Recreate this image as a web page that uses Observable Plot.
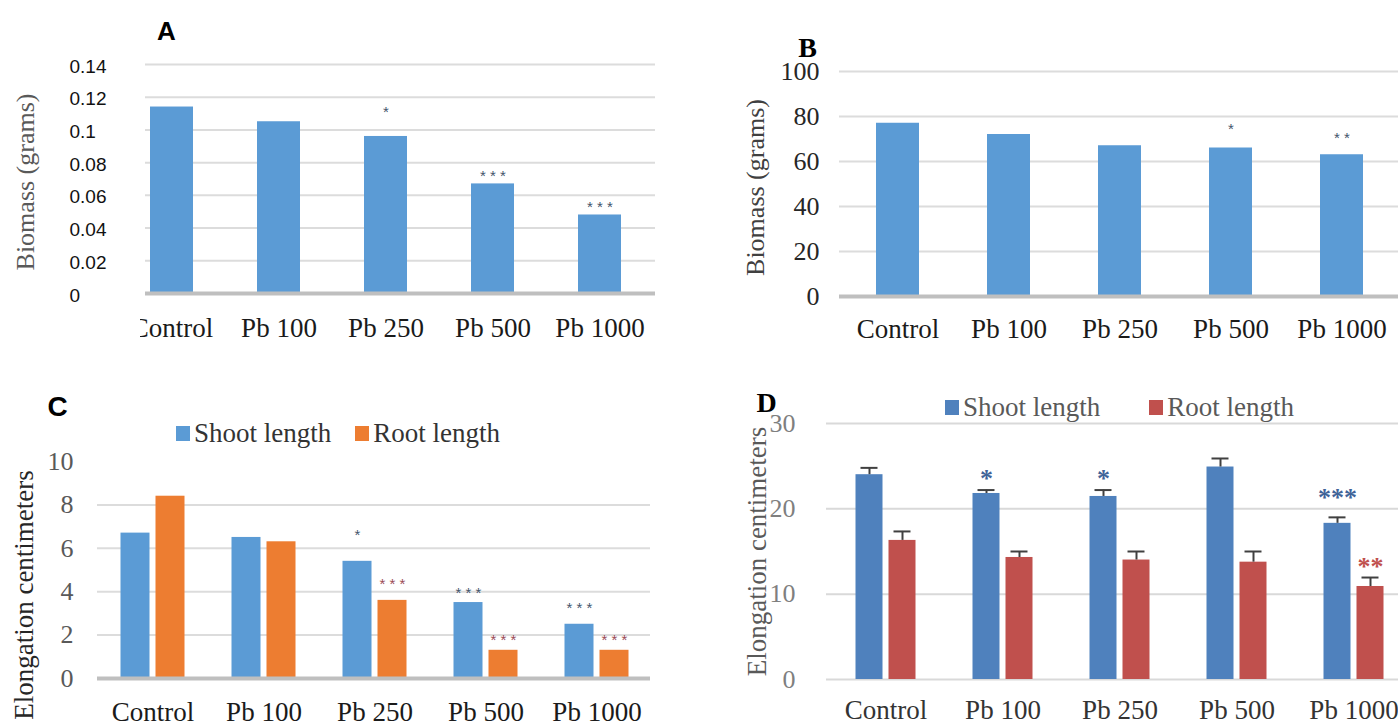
<!DOCTYPE html>
<html><head><meta charset="utf-8">
<script src="https://cdn.jsdelivr.net/npm/d3@7"></script>
<script src="https://cdn.jsdelivr.net/npm/@observablehq/plot@0.6"></script>
<style>
body{margin:0;background:#fff;}
#wrap{position:relative;width:1398px;height:723px;overflow:hidden;background:#fff;}
.panel{position:absolute;}
.legend{position:absolute;display:flex;align-items:center;font-family:"Liberation Serif",serif;font-size:27px;white-space:nowrap;line-height:1;}
.legend .item{display:flex;align-items:center;}
.legend .sw{display:inline-block;width:14px;height:15px;margin-right:4px;}
.mask{position:absolute;background:#fff;}
</style></head><body><div id="wrap"></div>
<script>
// ---------- data ----------
const categories = ["Control", "Pb 100", "Pb 250", "Pb 500", "Pb 1000"];

// Panel A: biomass (grams)
const biomassA = [0.114, 0.105, 0.096, 0.067, 0.048];
const sigA = ["", "", "*", "* * *", "* * *"];
const sigAy = [null, null, 0.113, 0.074, 0.055];
const ticksA = [0, 0.02, 0.04, 0.06, 0.08, 0.1, 0.12, 0.14];
const tickLabelsA = ["0", "0.02", "0.04", "0.06", "0.08", "0.1", "0.12", "0.14"];

// Panel B: biomass (grams)
const biomassB = [77, 72, 67, 66, 63];
const sigB = ["", "", "", "*", "* *"];
const sigBy = [null, null, null, 76, 72];
const ticksB = [0, 20, 40, 60, 80, 100];

// Panel C: elongation (cm)
const seriesC = ["Shoot length", "Root length"];
const shootC = [6.7, 6.5, 5.4, 3.5, 2.5];
const rootC = [8.4, 6.3, 3.6, 1.3, 1.3];
const sigShootC = ["", "", "*", "* * *", "* * *"];
const sigShootCy = [null, null, 6.77, 4.1, 3.41];
const sigRootC = ["", "", "* * *", "* * *", "* * *"];
const sigRootCy = [null, null, 4.52, 1.94, 1.94];
const ticksC = [0, 2, 4, 6, 8, 10];
const gridC = [2, 4, 6, 8];

// Panel D: elongation (cm) with error bars
const seriesD = ["Shoot length", "Root length"];
const shootD = [24.0, 21.8, 21.45, 24.9, 18.3];
const shootErrD = [0.8, 0.4, 0.75, 1.0, 0.7];
const rootD = [16.3, 14.3, 14.0, 13.75, 10.9];
const rootErrD = [1.05, 0.7, 1.0, 1.25, 1.05];
const sigShootD = ["", "*", "*", "", "***"];
const sigShootDy = [null, 24.1, 24.1, null, 21.9];
const sigRootD = ["", "", "", "", "**"];
const sigRootDy = [null, null, null, null, 13.8];
const ticksD = [0, 10, 20, 30];

// ---------- styles ----------
const SERIF = "Liberation Serif, Times New Roman, serif";
const SANS = "Liberation Sans, Arial, sans-serif";
const blue1 = "#5b9bd5", orange1 = "#ed7d31";
const blue2 = "#4f81bd", red2 = "#c0504d";
const MID = {textAnchor: "middle", lineAnchor: "middle"};

const wrap = document.getElementById("wrap");
function place(node, left, top) {
  const d = document.createElement("div");
  d.className = "panel";
  d.style.left = left + "px";
  d.style.top = top + "px";
  d.appendChild(node);
  wrap.appendChild(d);
  return d;
}
function legend(names, colors, left, top, gap, textColor) {
  const d = document.createElement("div");
  d.className = "legend";
  d.style.left = left + "px";
  d.style.top = top + "px";
  d.style.gap = gap + "px";
  d.style.color = textColor;
  names.forEach((n, i) => {
    const it = document.createElement("span");
    it.className = "item";
    const sw = document.createElement("span");
    sw.className = "sw";
    sw.style.background = colors[i];
    it.appendChild(sw);
    it.appendChild(document.createTextNode(n));
    d.appendChild(it);
  });
  wrap.appendChild(d);
}
const rows = (arrs) => categories.map((c, i) => {
  const o = {cat: c};
  for (const k in arrs) o[k] = arrs[k][i];
  return o;
});

// ---------- Panel A ----------
const dataA = rows({v: biomassA, sig: sigA, sy: sigAy});
const plotA = Plot.plot({
  width: 700, height: 360,
  marginLeft: 145, marginRight: 45, marginTop: 64, marginBottom: 67,
  x: {domain: categories, range: [116.25, 653.75], paddingInner: 0.6, paddingOuter: 0.3, align: 0.5, axis: null},
  y: {domain: [0, 0.14], axis: null},
  style: {background: "transparent", overflow: "visible"},
  marks: [
    Plot.ruleY(ticksA.slice(1), {stroke: "#dcdcdc", strokeWidth: 2}),
    Plot.barY(dataA, {x: "cat", y: "v", fill: blue1}),
    Plot.ruleY([0], {stroke: "#bfbfbf", strokeWidth: 4}),
    Plot.text(dataA.filter(d => d.sig), {x: "cat", y: "sy", text: "sig", fontFamily: SANS, fontSize: 15, fill: "#44546a", dy: 3.5}),
    Plot.text(ticksA, {y: d => d, text: (d, i) => tickLabelsA[i], frameAnchor: "left", textAnchor: "start", lineAnchor: "middle", dx: -76, dy: 2, fontFamily: SANS, fontSize: 19, fill: "#111"}),
    Plot.text(categories, {x: d => d, text: d => d, frameAnchor: "bottom", ...MID, dy: 35, fontFamily: SERIF, fontSize: 27, fill: "#1a1a1a"}),
    Plot.text(["Biomass (grams)"], {text: d => d, frameAnchor: "left", ...MID, rotate: -90, dx: -120, dy: 3, fontFamily: SERIF, fontSize: 26, fill: "#595959"}),
    Plot.text(["A"], {text: d => d, frameAnchor: "top-left", ...MID, dx: 21, dy: -32.5, fontFamily: SANS, fontWeight: "bold", fontSize: 26, fill: "#000"})
  ]
});
place(plotA, 0, 0);
// the reference crops the left edge of the first category label
const mask = document.createElement("div");
mask.className = "mask";
Object.assign(mask.style, {left: "0px", top: "310px", width: "140px", height: "40px"});
wrap.appendChild(mask);

// ---------- Panel B ----------
const dataB = rows({v: biomassB, sig: sigB, sy: sigBy});
const plotB = Plot.plot({
  width: 698, height: 360,
  marginLeft: 139, marginRight: 0, marginTop: 71, marginBottom: 64,
  x: {domain: categories, range: [140.1, 698.9], paddingInner: 0.615, paddingOuter: 0.3075, align: 0.5, axis: null},
  y: {domain: [0, 100], axis: null},
  style: {background: "transparent", overflow: "visible"},
  marks: [
    Plot.ruleY(ticksB.slice(1), {stroke: "#dcdcdc", strokeWidth: 2}),
    Plot.barY(dataB, {x: "cat", y: "v", fill: blue1}),
    Plot.ruleY([0], {stroke: "#bfbfbf", strokeWidth: 4}),
    Plot.text(dataB.filter(d => d.sig), {x: "cat", y: "sy", text: "sig", fontFamily: SANS, fontSize: 15, fill: "#44546a", dy: 3.5}),
    Plot.text(ticksB, {y: d => d, text: d => String(d), frameAnchor: "left", textAnchor: "end", lineAnchor: "middle", dx: -20, fontFamily: SERIF, fontSize: 26, fill: "#262626"}),
    Plot.text(categories, {x: d => d, text: d => d, frameAnchor: "bottom", ...MID, dy: 33, fontFamily: SERIF, fontSize: 27, fill: "#1a1a1a"}),
    Plot.text(["Biomass (grams)"], {text: d => d, frameAnchor: "left", ...MID, rotate: -90, dx: -84, dy: 3.5, fontFamily: SERIF, fontSize: 26, fill: "#404040"}),
    Plot.text(["B"], {text: d => d, frameAnchor: "top-left", ...MID, dx: -32, dy: -23, fontFamily: SERIF, fontWeight: "bold", fontSize: 28, fill: "#000"})
  ]
});
place(plotB, 700, 0);

// ---------- Panel C ----------
const dataC = rows({s: shootC, r: rootC, ss: sigShootC, ssy: sigShootCy, rs: sigRootC, rsy: sigRootCy});
const plotC = Plot.plot({
  width: 700, height: 363,
  marginLeft: 97, marginRight: 50, marginTop: 101, marginBottom: 45,
  x: {domain: categories, range: [96.95, 652.55], paddingInner: 0.739, paddingOuter: 0.3695, align: 0.5, axis: null},
  y: {domain: [0, 10], axis: null},
  style: {background: "transparent", overflow: "visible"},
  marks: [
    Plot.ruleY(gridC, {stroke: "#dcdcdc", strokeWidth: 2}),
    Plot.barY(dataC, {x: "cat", y: "s", fill: blue1, dx: -17.5}),
    Plot.barY(dataC, {x: "cat", y: "r", fill: orange1, dx: 17.5}),
    Plot.ruleY([0], {stroke: "#bfbfbf", strokeWidth: 4}),
    Plot.text(dataC.filter(d => d.ss), {x: "cat", y: "ssy", text: "ss", dx: -17.5, fontFamily: SANS, fontSize: 15, fill: "#44546a", dy: 3.5}),
    Plot.text(dataC.filter(d => d.rs), {x: "cat", y: "rsy", text: "rs", dx: 17.5, fontFamily: SANS, fontSize: 15, fill: "#9b4a55", dy: 3.5}),
    Plot.text(ticksC, {y: d => d, text: d => String(d), frameAnchor: "left", textAnchor: "end", lineAnchor: "middle", dx: -24, fontFamily: SERIF, fontSize: 26, fill: "#595959"}),
    Plot.text(categories, {x: d => d, text: d => d, frameAnchor: "bottom", ...MID, dy: 34, fontFamily: SERIF, fontSize: 27, fill: "#1a1a1a"}),
    Plot.text(["Elongation centimeters"], {text: d => d, frameAnchor: "left", ...MID, rotate: -90, dx: -73, dy: 25, fontFamily: SERIF, fontSize: 27, fill: "#262626"}),
    Plot.text(["C"], {text: d => d, frameAnchor: "top-left", ...MID, dx: -40, dy: -54, fontFamily: SANS, fontWeight: "bold", fontSize: 28, fill: "#000"})
  ]
});
place(plotC, 0, 360);
legend(seriesC, [blue1, orange1], 176, 420, 24, "#333");

// ---------- Panel D ----------
const dataD = rows({s: shootD, se: shootErrD, r: rootD, re: rootErrD, ss: sigShootD, ssy: sigShootDy, rs: sigRootD, rsy: sigRootDy});
const plotD = Plot.plot({
  width: 698, height: 363,
  marginLeft: 126, marginRight: 0, marginTop: 63, marginBottom: 44,
  x: {domain: categories, range: [125.8, 712.8], paddingInner: 0.77, paddingOuter: 0.385, align: 0.5, axis: null},
  y: {domain: [0, 30], axis: null},
  style: {background: "transparent", overflow: "visible"},
  marks: [
    Plot.ruleY(ticksD, {stroke: "#d9d9d9", strokeWidth: 2}),
    Plot.barY(dataD, {x: "cat", y: "s", fill: blue2, dx: -16.5}),
    Plot.barY(dataD, {x: "cat", y: "r", fill: red2, dx: 16.5}),
    Plot.ruleX(dataD, {x: "cat", y1: "s", y2: d => d.s + d.se, dx: -16.5, stroke: "#404040", strokeWidth: 2}),
    Plot.tickY(dataD, {x: "cat", y: d => d.s + d.se, dx: -16.5, insetLeft: 5, insetRight: 5, stroke: "#404040", strokeWidth: 2}),
    Plot.ruleX(dataD, {x: "cat", y1: "r", y2: d => d.r + d.re, dx: 16.5, stroke: "#404040", strokeWidth: 2}),
    Plot.tickY(dataD, {x: "cat", y: d => d.r + d.re, dx: 16.5, insetLeft: 5, insetRight: 5, stroke: "#404040", strokeWidth: 2}),
    Plot.text(dataD.filter(d => d.ss), {x: "cat", y: "ssy", text: "ss", dx: -16.5, dy: 5, fontFamily: SERIF, fontWeight: "bold", fontSize: 26, fill: "#3f6398"}),
    Plot.text(dataD.filter(d => d.rs), {x: "cat", y: "rsy", text: "rs", dx: 16.5, dy: 5, fontFamily: SERIF, fontWeight: "bold", fontSize: 26, fill: "#c0504d"}),
    Plot.text(ticksD, {y: d => d, text: d => String(d), frameAnchor: "left", textAnchor: "end", lineAnchor: "middle", dx: -31, fontFamily: SERIF, fontSize: 26, fill: "#7f7f7f"}),
    Plot.text(categories, {x: d => d, text: d => d, frameAnchor: "bottom", ...MID, dy: 31, fontFamily: SERIF, fontSize: 27, fill: "#333"}),
    Plot.text(["Elongation centimeters"], {text: d => d, frameAnchor: "left", ...MID, rotate: -90, dx: -69, dy: 0, fontFamily: SERIF, fontSize: 27, fill: "#595959"}),
    Plot.text(["D"], {text: d => d, frameAnchor: "top-left", ...MID, dx: -60, dy: -20, fontFamily: SERIF, fontWeight: "bold", fontSize: 28, fill: "#000"})
  ]
});
place(plotD, 700, 360);
legend(seriesD, [blue2, red2], 945, 394, 49, "#595959");
</script></body></html>
